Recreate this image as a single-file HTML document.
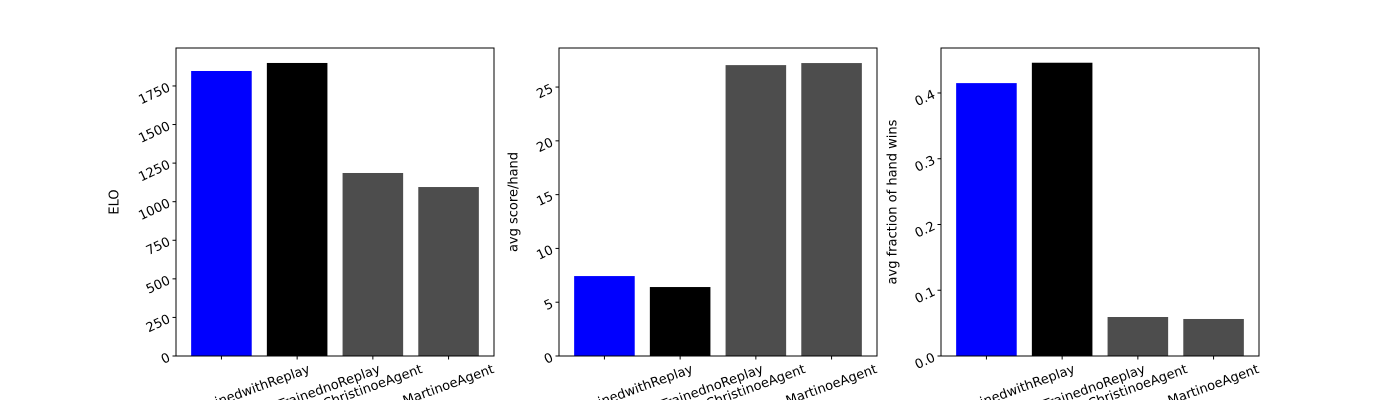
<!DOCTYPE html>
<html><head><meta charset="utf-8"><style>
html,body{margin:0;background:#fff;width:1400px;height:400px;overflow:hidden;}
svg{display:block;overflow:hidden;}
svg text{font-family:"DejaVu Sans","Liberation Sans",sans-serif;font-size:13px;fill:#000;}
</style></head><body>
<svg id="chart" width="1400" height="400" viewBox="0 0 1400 400" xmlns="http://www.w3.org/2000/svg"></svg>
<script>
const categories = ["DQNAgentTrainedwithReplay","DQNAgentTrainednoReplay","ChristinoeAgent","MartinoeAgent"];
const colors = ["#0000ff","#000000","#4d4d4d","#4d4d4d"];
const eloValues = [1847, 1899, 1186, 1095];
const scoreValues = [7.43, 6.41, 27.04, 27.23];
const fracValues = [0.415, 0.446, 0.0593, 0.0563];
const eloTicks = [0,250,500,750,1000,1250,1500,1750];
const scoreTicks = [0,5,10,15,20,25];
const fracTicks = [0.0,0.1,0.2,0.3,0.4];
const fracTickLabels = ["0.0","0.1","0.2","0.3","0.4"];
const yTitles = ["ELO","avg score/hand","avg fraction of hand wins"];

const NS="http://www.w3.org/2000/svg";
const svgEl=document.getElementById('chart');
function mk(tag,attrs,parent){const e=document.createElementNS(NS,tag);for(const k in attrs)e.setAttribute(k,attrs[k]);(parent||svgEl).appendChild(e);return e;}

const panels=[
 {x0:176,vals:eloValues,ticks:eloTicks,labels:eloTicks.map(String),ymax:1996,title:yTitles[0],tx:115,name:'elo'},
 {x0:559,vals:scoreValues,ticks:scoreTicks,labels:scoreTicks.map(String),ymax:28.63,title:yTitles[1],tx:514,name:'score'},
 {x0:941,vals:fracValues,ticks:fracTicks,labels:fracTickLabels,ymax:0.4684,title:yTitles[2],tx:893,name:'fraction'}
];
const plotTop=48,plotBot=356,plotW=318;
panels.forEach(p=>{
  const g=mk('g',{});
  
  
  const xs=i=>p.x0+(i+0.6)/4.2*plotW;
  const ys=v=>plotBot-v/p.ymax*(plotBot-plotTop);
  p.vals.forEach((v,i)=>{
    const r=mk('rect',{x:xs(i)-0.4/4.2*plotW,y:ys(v),width:0.8/4.2*plotW,height:plotBot-ys(v),fill:colors[i]},g);
    
    
  });
  mk('rect',{x:p.x0,y:plotTop,width:plotW,height:plotBot-plotTop,fill:'none',stroke:'#000','stroke-width':1},g);
  p.ticks.forEach((t,i)=>{
    const y=ys(t);
    mk('line',{x1:p.x0-3.5,x2:p.x0,y1:y,y2:y,stroke:'#000'},g);
    const tx=mk('text',{x:p.x0-7,y:y+5,'text-anchor':'end',transform:`rotate(-25 ${p.x0-7} ${y})`},g);
    tx.textContent=p.labels[i];
    
    
  });
  categories.forEach((c,i)=>{
    const x=xs(i);
    mk('line',{x1:x,x2:x,y1:plotBot,y2:plotBot+3.5,stroke:'#000'},g);
    const tx=mk('text',{x:0,y:0,'text-anchor':'middle','dominant-baseline':'central'},g);
    tx.textContent=c;
    
    
    let w=0; try{w=tx.getComputedTextLength();}catch(e){w=c.length*8;}
    const a=20*Math.PI/180;
    const bh=w*Math.sin(a)+13*Math.cos(a);
    tx.setAttribute('transform',`translate(${x} ${plotBot+7+bh/2}) rotate(-20)`);
  });
  const cy=(plotTop+plotBot)/2;
  const tt=mk('text',{x:p.tx,y:cy,'text-anchor':'middle','dominant-baseline':'central',transform:`rotate(-90 ${p.tx} ${cy})`},g);
  tt.textContent=p.title;
  
  
});
</script>
</body></html>
